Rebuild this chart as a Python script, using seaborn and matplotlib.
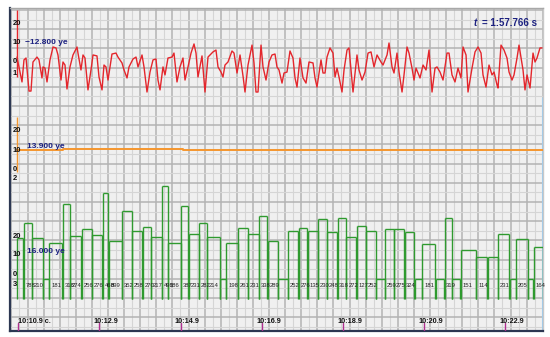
import numpy as np
import matplotlib
matplotlib.use("Agg")
import matplotlib.pyplot as plt
import seaborn as sns

# ---------------- data ----------------
# time axis (seconds after 10:10)
time_ticks = [10.9, 12.9, 14.9, 16.9, 18.9, 20.9, 22.9]
time_labels = ["10:10.9 c.", "10:12.9", "10:14.9", "10:16.9", "10:18.9", "10:20.9", "10:22.9"]
t_start, t_end = 10.693, 23.843

# channel 1 (red)
red_t = [10.865, 10.915, 10.989, 11.038, 11.088, 11.162, 11.211, 11.260, 11.359, 11.408,
         11.482, 11.507, 11.556, 11.606, 11.680, 11.754, 11.828, 11.877, 11.951, 12.000,
         12.050, 12.099, 12.173, 12.247, 12.346, 12.370, 12.444, 12.494, 12.543, 12.617,
         12.691, 12.741, 12.839, 12.889, 12.963, 13.012, 13.061, 13.111, 13.209, 13.308,
         13.357, 13.456, 13.506, 13.580, 13.629, 13.728, 13.802, 13.851, 13.950, 13.999,
         14.073, 14.147, 14.221, 14.295, 14.344, 14.394, 14.468, 14.517, 14.591, 14.690,
         14.739, 14.813, 14.887, 14.961, 15.011, 15.085, 15.159, 15.233, 15.282, 15.331,
         15.430, 15.504, 15.578, 15.701, 15.775, 15.825, 15.899, 15.948, 15.997, 16.071,
         16.170, 16.220, 16.294, 16.368, 16.442, 16.491, 16.565, 16.664, 16.713, 16.762,
         16.812, 16.886, 16.935, 17.009, 17.083, 17.157, 17.231, 17.280, 17.330, 17.404,
         17.453, 17.527, 17.601, 17.675, 17.725, 17.774, 17.848, 17.922, 17.996, 18.070,
         18.169, 18.218, 18.267, 18.366, 18.415, 18.465, 18.514, 18.588, 18.662, 18.712,
         18.761, 18.810, 18.884, 18.934, 19.008, 19.057, 19.156, 19.254, 19.304, 19.378,
         19.452, 19.526, 19.600, 19.674, 19.748, 19.846, 19.896, 19.995, 20.044, 20.118,
         20.167, 20.241, 20.291, 20.365, 20.414, 20.488, 20.537, 20.611, 20.661, 20.710,
         20.809, 20.883, 20.957, 21.031, 21.105, 21.179, 21.228, 21.302, 21.376, 21.475,
         21.524, 21.598, 21.672, 21.746, 21.820, 21.870, 21.944, 21.993, 22.092, 22.166,
         22.240, 22.314, 22.363, 22.437, 22.511, 22.585, 22.635, 22.709, 22.733, 22.807,
         22.881, 22.955, 23.005, 23.079, 23.128, 23.202, 23.251, 23.350, 23.399, 23.449,
         23.523, 23.597, 23.646, 23.695, 23.769, 23.819]
red_v = [2.6, -2.6, -10.5, 1.1, 2.1, -15.3, -15.3, 0.0, 2.6, 1.1,
         -8.4, -2.6, -3.2, -10.5, 1.1, 7.9, 7.4, 3.7, -9.5, 0.0,
         -1.6, -14.2, -2.6, 3.7, 7.9, 4.7, -4.2, 3.7, 2.1, -14.7,
         -4.2, 3.7, 3.2, -7.9, -14.7, -1.6, -2.6, -9.5, 4.2, 4.7,
         2.6, -0.5, -4.2, -8.4, -2.6, 1.6, 2.6, -2.6, 3.7, -2.6,
         -15.8, -5.3, 1.1, 1.6, -9.5, -14.7, -2.6, -6.8, 2.1, 2.6,
         4.7, -10.5, -2.6, 2.1, -9.5, -2.6, 4.7, 9.5, 4.7, -7.9,
         3.2, -15.8, 2.6, 5.3, 6.3, -2.6, -5.3, -7.9, -1.6, 0.0,
         5.8, 4.7, -5.8, 3.7, -7.4, -15.8, -1.6, 8.9, -0.5, -15.8,
         -15.8, 8.9, -2.6, -9.5, 0.0, 3.7, 4.2, -2.6, -4.2, -11.1,
         -5.8, -5.3, 5.8, 2.1, -8.4, -13.2, 2.1, -8.4, -11.1, 0.0,
         -0.5, -8.4, -13.2, 1.1, -5.8, -5.8, 2.6, 7.4, 4.7, -7.9,
         -3.2, -7.9, -15.8, -4.2, 6.3, 7.4, -15.8, 3.7, -4.2, -9.5,
         -5.3, 4.7, 5.3, -2.6, 3.7, 0.0, -1.6, 3.7, 10.0, -2.6,
         -5.8, 4.7, -5.3, -15.8, -6.8, 7.9, 4.7, -3.2, -9.5, -3.2,
         -8.4, -1.6, -4.2, 6.3, -15.8, -3.2, -2.6, -5.3, -9.5, 4.7,
         4.7, -6.8, -10.5, -3.2, -8.4, 7.9, 3.7, -15.8, -3.2, 5.3,
         7.9, 4.7, -6.8, -13.2, -1.6, -6.8, -5.3, -12.1, -13.7, 8.9,
         6.3, 2.1, -5.3, -9.5, -6.8, 2.1, 8.9, -4.2, -14.7, -6.8,
         -13.7, 4.7, 0.0, 2.1, 7.4, 7.4]
red_name = "\u221212.800 ye"
red_ticks = [20, 10, 0, -6.3]
red_ticklabels = ["20", "10", "0", "1"]

# channel 2 (orange)
orange_t = [10.865, 12.000, 14.961, 23.843]
orange_v = [10.1, 10.8, 10.1, 10.1]
orange_name = "13.900 ye"
orange_ticks = [20, 10, 0, -4.9]
orange_ticklabels = ["20", "10", "0", "2"]

# channel 3 (green, beat-to-beat bars)
green_edges = [10.865, 11.038, 11.236, 11.507, 11.655, 12.000, 12.173, 12.469, 12.716, 12.987,
               13.135, 13.456, 13.703, 13.950, 14.172, 14.443, 14.591, 14.912, 15.085, 15.356,
               15.553, 15.874, 16.022, 16.318, 16.565, 16.836, 17.034, 17.305, 17.552, 17.799,
               18.021, 18.292, 18.514, 18.761, 18.983, 19.230, 19.476, 19.723, 19.945, 20.167,
               20.414, 20.661, 20.858, 21.179, 21.401, 21.598, 21.796, 22.190, 22.462, 22.733,
               23.005, 23.177, 23.473, 23.597, 23.843]
green_v = [18.9, 26.8, 18.9, -2.6, 16.3, 36.8, 20.0, 23.7, 20.5, 42.6,
           17.4, 33.2, 22.6, 24.7, 19.5, 46.3, 16.3, 35.8, 21.1, 26.8,
           19.5, -2.6, 16.3, 24.2, 21.1, 30.5, 17.4, -2.6, 22.6, 24.2,
           22.6, 28.9, 22.1, 29.5, 19.5, 25.3, 22.6, -2.6, 23.7, 23.7,
           22.1, -2.6, 15.8, -2.6, 29.5, -2.6, 12.6, 8.9, 8.9, 21.1,
           -2.6, 18.4, -2.6, 14.2]
green_labels = ["", "788", "210", "", "181", "318", "274", "256", "276", "468",
                "899", "352", "258", "270", "217", "498", "386", "387", "231", "282",
                "214", "", "198", "261", "231", "338", "289", "", "252", "276",
                "135", "230", "248", "318", "272", "127", "252", "", "259", "275",
                "324", "", "181", "", "319", "", "151", "114", "", "231",
                "", "205", "", "164"]
green_name = "16.000 ye"
green_ticks = [20, 10, 0, -5.3]
green_ticklabels = ["20", "10", "0", "3"]

title_value = "= 1:57.766 s"

# ---------------- style ----------------
sns.set_theme(style="white")
plt.rcParams["font.family"] = ["Liberation Sans", "DejaVu Sans"]

RED, ORANGE, GREEN = "#e4262c", "#f5962e", "#2f9a2f"
NAVY = "#1c2180"

fig = plt.figure(figsize=(5.5, 3.37), dpi=100)
fig.patch.set_facecolor("white")
rect = [10 / 550, 6 / 337, 533 / 550, 323 / 337]

# background "paper" grid
ax_bg = fig.add_axes(rect)
ax_bg.set_facecolor("#f0f0f0")
ax_bg.set_xlim(0, 533)
ax_bg.set_ylim(0, 323)
xmaj = np.arange(1.4, 533, 16.1)
ymaj = np.arange(321, 0, -19.2)
ax_bg.set_xticks(xmaj)
ax_bg.set_xticks(np.arange(1.4 + 8.05, 533, 16.1), minor=True)
ax_bg.set_yticks(ymaj)
ax_bg.set_yticks(ymaj - 9.6, minor=True)
ax_bg.grid(which="minor", color="#d5d5d5", lw=0.8)
ax_bg.grid(which="major", color="#b3b3b3", lw=1.1)
ax_bg.tick_params(which="both", length=0, labelbottom=False, labelleft=False)
for s in ("left", "bottom"):
    ax_bg.spines[s].set_color("#2c3752")
    ax_bg.spines[s].set_linewidth(1.6)
ax_bg.spines["top"].set_color("#a8a8a8")
ax_bg.spines["top"].set_linewidth(1.0)
ax_bg.spines["right"].set_color("#c8c8c8")
ax_bg.spines["right"].set_linewidth(1.0)
ax_bg.axvline(533, ymin=0, ymax=0.72, color="#9ccbee", lw=2.2)


def channel_axes(ylim):
    a = fig.add_axes(rect)
    a.set_xlim(t_start, t_end)
    a.set_ylim(*ylim)
    a.set_axis_off()
    return a


ax_r = channel_axes((-141.58, 28.42))
ax_o = channel_axes((-83.68, 83.68))
ax_g = channel_axes((-30.0, 140.0))

lab_kw = dict(fontsize=5.5, fontweight="bold", color="#111111", ha="left", va="center")
name_kw = dict(fontsize=6, fontweight="bold", color=NAVY, ha="left", va="center")

# red channel
ax_r.vlines(red_t[0], -7.9, 27.4, color=RED, lw=1.0)
sns.lineplot(x=red_t, y=red_v, ax=ax_r, color=RED, lw=1.0, estimator=None, sort=False)
for v, s in zip(red_ticks, red_ticklabels):
    ax_r.text(0.0056, v, s, transform=ax_r.get_yaxis_transform(), **lab_kw)
ax_r.text(0.028, 10.5, red_name, transform=ax_r.get_yaxis_transform(), **name_kw)

# orange channel
ax_o.vlines(orange_t[0], -1.3, 27.2, color=ORANGE, lw=1.0)
sns.lineplot(x=orange_t, y=orange_v, ax=ax_o, color=ORANGE, lw=1.4,
             estimator=None, sort=False, drawstyle="steps-post")
for v, s in zip(orange_ticks, orange_ticklabels):
    ax_o.text(0.0056, v, s, transform=ax_o.get_yaxis_transform(), **lab_kw)
ax_o.text(0.032, 11.7, orange_name, transform=ax_o.get_yaxis_transform(), **name_kw)

# green channel bars (outlined)
floor = -13.2
inset = 0.012
left = np.array(green_edges[:-1]) + inset
right = np.array(green_edges[1:]) - inset
vals = np.array(green_v)
ax_g.hlines(vals, left, right, color=GREEN, lw=1.0)
ax_g.vlines(left, floor, vals, color=GREEN, lw=1.0)
ax_g.vlines(right, floor, vals, color=GREEN, lw=1.0)
for x0, s in zip(green_edges[:-1], green_labels):
    if s:
        ax_g.annotate(s, xy=(x0, -5.8), xytext=(1.6, 0), textcoords="offset points",
                      fontsize=4.2, color="#222222", ha="left", va="center")
for v, s in zip(green_ticks, green_ticklabels):
    ax_g.text(0.0056, v, s, transform=ax_g.get_yaxis_transform(), **lab_kw)
ax_g.text(0.032, 11.6, green_name, transform=ax_g.get_yaxis_transform(), **name_kw)

# time axis labels and ticks
for i, (t, s) in enumerate(zip(time_ticks, time_labels)):
    ax_g.axvline(t, ymin=0, ymax=0.025, color="#b03090", lw=1.0)
    ax_g.annotate(s, xy=(t, 0.030), xycoords=ax_g.get_xaxis_transform(),
                  xytext=(0 if i == 0 else -4.0, 0), textcoords="offset points",
                  fontsize=5.2, fontweight="bold", color="#111111", ha="left", va="center")

# elapsed time
ax_bg.text(464, 308, "t", fontsize=7, fontweight="bold", fontstyle="italic",
           color=NAVY, ha="left", va="center")
ax_bg.text(527, 308, title_value, fontsize=7, fontweight="bold",
           color=NAVY, ha="right", va="center")

fig.savefig("out.png", dpi=100, facecolor="white")
